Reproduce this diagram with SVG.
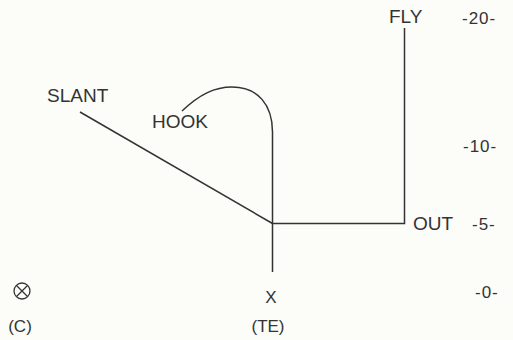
<svg xmlns="http://www.w3.org/2000/svg" width="513" height="340" viewBox="0 0 513 340">
<style>
.t{font-family:"Liberation Sans",Arial,sans-serif;font-size:19px;fill:#333}
.s{font-family:"Liberation Sans",Arial,sans-serif;font-size:17px;fill:#333}
.n{font-family:"Liberation Sans",Arial,sans-serif;font-size:17px;fill:#333;letter-spacing:1px}
.l{fill:none;stroke:#333;stroke-width:1.5}
</style>
<rect width="513" height="340" fill="#fcfcf8"/>
<g id="connectors">
<path class="l" d="M80 112 L272.5 223.5"/>
<path class="l" d="M272.5 272 L272.5 132 C272.5 105 258 87 232 87 C215 87 200 94 182 111"/>
<path class="l" d="M272.5 223.5 L404.5 223.5 L404.5 28"/>
</g>
<g id="slant"><text class="t" x="47" y="102">SLANT</text></g>
<g id="hook"><text class="t" x="152" y="128">HOOK</text></g>
<g id="fly"><text class="t" x="389" y="23">FLY</text></g>
<g id="out"><text class="t" x="413" y="230">OUT</text></g>
<g id="te"><text class="s" x="271" y="303" text-anchor="middle">X</text><text class="s" x="268" y="332" text-anchor="middle">(TE)</text></g>
<g id="c"><circle cx="22" cy="291" r="8" fill="none" stroke="#333" stroke-width="1.3"/><path d="M16.5 285.5 L27.5 296.5 M27.5 285.5 L16.5 296.5" stroke="#333" stroke-width="1.3"/><text class="s" x="20" y="332" text-anchor="middle">(C)</text></g>
<g id="scale">
<text class="n" x="462" y="24">-20-</text>
<text class="n" x="463" y="152">-10-</text>
<text class="n" x="472" y="230">-5-</text>
<text class="n" x="475" y="298">-0-</text>
</g>
</svg>
